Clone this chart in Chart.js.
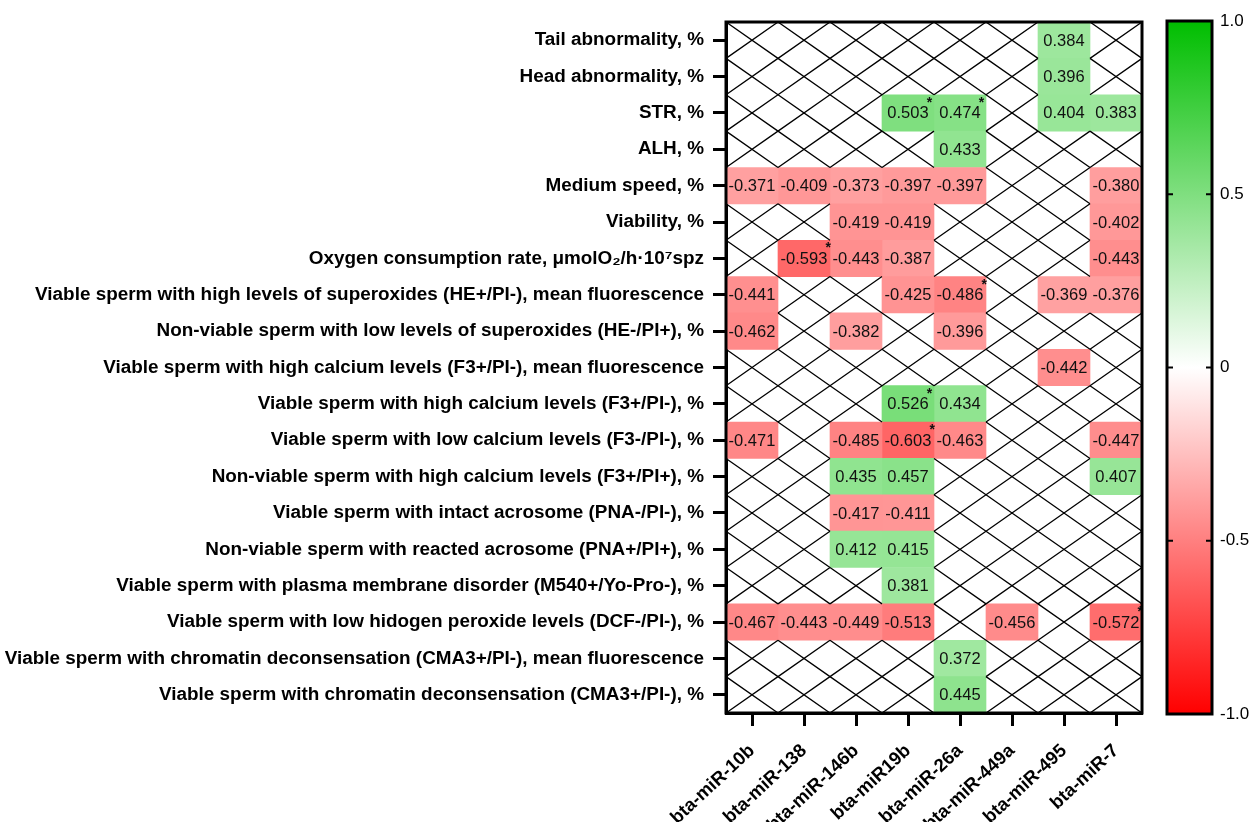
<!DOCTYPE html>
<html>
<head>
<meta charset="utf-8">
<script src="https://cdn.jsdelivr.net/npm/chart.js@4.4.1/dist/chart.umd.min.js"></script>
<style>
  body { margin: 0; background: #fff; }
  #wrap { position: relative; width: 1260px; height: 822px; overflow: hidden; }
  #heatmap { position: absolute; left: 0; top: 0; }
  #colorbar { position: absolute; left: 1140px; top: 0; }
</style>
</head>
<body>
<div id="wrap">
  <canvas id="heatmap" width="1260" height="822"></canvas>
  <canvas id="colorbar" width="120" height="822"></canvas>
</div>
<script>
// Correlations between miRNA expression and sperm parameters (blank = not significant)
const miRNAs = ['bta-miR-10b', 'bta-miR-138', 'bta-miR-146b', 'bta-miR19b', 'bta-miR-26a', 'bta-miR-449a', 'bta-miR-495', 'bta-miR-7'];

const parameters = [
    'Tail abnormality, %',
    'Head abnormality, %',
    'STR, %',
    'ALH, %',
    'Medium speed, %',
    'Viability, %',
    'Oxygen consumption rate, \u03bcmolO\u2082/h\u00b710\u2077spz',
    'Viable sperm with high levels of superoxides (HE+/PI-), mean fluorescence',
    'Non-viable sperm with low levels of superoxides (HE-/PI+), %',
    'Viable sperm with high calcium levels (F3+/PI-), mean fluorescence',
    'Viable sperm with high calcium levels (F3+/PI-), %',
    'Viable sperm with low calcium levels (F3-/PI-), %',
    'Non-viable sperm with high calcium levels (F3+/PI+), %',
    'Viable sperm with intact acrosome (PNA-/PI-), %',
    'Non-viable sperm with reacted acrosome (PNA+/PI+), %',
    'Viable sperm with plasma membrane disorder (M540+/Yo-Pro-), %',
    'Viable sperm with low hidogen peroxide levels (DCF-/PI-), %',
    'Viable sperm with chromatin deconsensation (CMA3+/PI-), mean fluorescence',
    'Viable sperm with chromatin deconsensation (CMA3+/PI-), %'
];

// one row per parameter, one column per miRNA
const corrValues = [
    [null, null, null, null, null, null, 0.384, null],
    [null, null, null, null, null, null, 0.396, null],
    [null, null, null, 0.503, 0.474, null, 0.404, 0.383],
    [null, null, null, null, 0.433, null, null, null],
    [-0.371, -0.409, -0.373, -0.397, -0.397, null, null, -0.380],
    [null, null, -0.419, -0.419, null, null, null, -0.402],
    [null, -0.593, -0.443, -0.387, null, null, null, -0.443],
    [-0.441, null, null, -0.425, -0.486, null, -0.369, -0.376],
    [-0.462, null, -0.382, null, -0.396, null, null, null],
    [null, null, null, null, null, null, -0.442, null],
    [null, null, null, 0.526, 0.434, null, null, null],
    [-0.471, null, -0.485, -0.603, -0.463, null, null, -0.447],
    [null, null, 0.435, 0.457, null, null, null, 0.407],
    [null, null, -0.417, -0.411, null, null, null, null],
    [null, null, 0.412, 0.415, null, null, null, null],
    [null, null, null, 0.381, null, null, null, null],
    [-0.467, -0.443, -0.449, -0.513, null, -0.456, null, -0.572],
    [null, null, null, null, 0.372, null, null, null],
    [null, null, null, null, 0.445, null, null, null]
];

// [row, column] of the starred cells
const significant = [[2, 3], [2, 4], [6, 1], [7, 4], [10, 3], [11, 3], [16, 7]];

const colorbarTicks = [-1, -0.5, 0, 0.5, 1];

const FONT = '"Liberation Sans", Arial, Helvetica, sans-serif';

function cellColor(v) {
    if (v == null) return 'rgba(0,0,0,0)';
    if (v >= 0) {
        const rb = Math.round(255 * (1 - v));
        const g = Math.round(255 - 63 * v);
        return `rgb(${rb},${g},${rb})`;
    }
    const a = -v;
    const gb = Math.round(255 * (1 - a));
    return `rgb(255,${gb},${gb})`;
}

function isStarred(r, c) {
    return significant.some(s => s[0] === r && s[1] === c);
}

// X marks on empty cells, numbers on the filled ones, frame on top
const cellPlugin = {
    id: 'cellPlugin',
    afterDatasetsDraw(chart) {
        const ctx = chart.ctx;
        const xs = chart.scales.x;
        const ys = chart.scales.y;
        const area = chart.chartArea;
        const halfRow = (ys.getPixelForValue(1) - ys.getPixelForValue(0)) / 2;

        ctx.save();
        ctx.strokeStyle = '#000';
        ctx.lineWidth = 1.3;
        corrValues.forEach((row, r) => {
            row.forEach((v, c) => {
                if (v != null) return;
                const x0 = xs.getPixelForValue(c - 0.5);
                const x1 = xs.getPixelForValue(c + 0.5);
                const y0 = ys.getPixelForValue(r) - halfRow;
                const y1 = ys.getPixelForValue(r) + halfRow;
                ctx.beginPath();
                ctx.moveTo(x0, y0); ctx.lineTo(x1, y1);
                ctx.moveTo(x0, y1); ctx.lineTo(x1, y0);
                ctx.stroke();
            });
        });

        ctx.fillStyle = '#111';
        ctx.textBaseline = 'middle';
        corrValues.forEach((row, r) => {
            row.forEach((v, c) => {
                if (v == null) return;
                const x = xs.getPixelForValue(c);
                const y = ys.getPixelForValue(r);
                const label = v.toFixed(3);
                ctx.font = '16.5px ' + FONT;
                ctx.textAlign = 'center';
                ctx.fillText(label, x, y + 1);
                if (isStarred(r, c)) {
                    const w = ctx.measureText(label).width;
                    ctx.font = 'bold 14px ' + FONT;
                    ctx.textAlign = 'left';
                    ctx.fillText('*', x + w / 2 - 2, y - 10);
                }
            });
        });

        ctx.strokeStyle = '#000';
        ctx.lineWidth = 3;
        ctx.strokeRect(area.left, area.top, area.right - area.left, area.bottom - area.top);
        ctx.restore();
    }
};

const heatmapDatasets = miRNAs.map((name, c) => ({
    label: name,
    data: parameters.map((p, r) => corrValues[r][c] == null ? null : [c - 0.5, c + 0.5]),
    backgroundColor: parameters.map((p, r) => cellColor(corrValues[r][c])),
    borderWidth: 0,
    barPercentage: 1,
    categoryPercentage: 1,
    grouped: false
}));

new Chart(document.getElementById('heatmap'), {
    type: 'bar',
    data: { labels: parameters, datasets: heatmapDatasets },
    options: {
        indexAxis: 'y',
        responsive: false,
        animation: false,
        layout: { padding: { left: 0, top: 22, right: 118, bottom: 0 } },
        plugins: { legend: { display: false }, tooltip: { enabled: false } },
        scales: {
            x: {
                type: 'linear',
                position: 'bottom',
                min: -0.5,
                max: 7.5,
                afterBuildTicks: s => { s.ticks = miRNAs.map((m, i) => ({ value: i })); },
                afterFit: s => { s.height = 109; },
                ticks: {
                    autoSkip: false,
                    minRotation: 43,
                    maxRotation: 43,
                    padding: 14,
                    color: '#000',
                    font: { family: FONT, size: 18.5, weight: 'bold' },
                    callback: v => miRNAs[v]
                },
                grid: { drawOnChartArea: false, drawTicks: true, tickLength: 13, tickWidth: 3, tickColor: '#000' },
                border: { display: true, color: '#000', width: 3 }
            },
            y: {
                type: 'category',
                afterFit: s => { s.width = 726; },
                ticks: {
                    autoSkip: false,
                    padding: 9,
                    color: '#000',
                    font: { family: FONT, size: 18.9, weight: 'bold' }
                },
                grid: { offset: false, drawOnChartArea: false, drawTicks: true, tickLength: 13, tickWidth: 3, tickColor: '#000' },
                border: { display: true, color: '#000', width: 3 }
            }
        }
    },
    plugins: [cellPlugin]
});

// colour scale legend
const colorbarPlugin = {
    id: 'colorbarPlugin',
    afterDatasetsDraw(chart) {
        const ctx = chart.ctx;
        const ys = chart.scales.y;
        const area = chart.chartArea;
        ctx.save();
        ctx.strokeStyle = '#000';
        ctx.lineWidth = 2;
        colorbarTicks.filter(t => Math.abs(t) < 1).forEach(t => {
            const y = ys.getPixelForValue(t);
            ctx.beginPath();
            ctx.moveTo(area.left, y); ctx.lineTo(area.left + 6, y);
            ctx.moveTo(area.right - 6, y); ctx.lineTo(area.right, y);
            ctx.stroke();
        });
        ctx.lineWidth = 3;
        ctx.strokeRect(area.left, area.top, area.right - area.left, area.bottom - area.top);
        ctx.restore();
    }
};

new Chart(document.getElementById('colorbar'), {
    type: 'bar',
    data: {
        labels: ['scale'],
        datasets: [{
            data: [[-1, 1]],
            borderWidth: 0,
            barPercentage: 1,
            categoryPercentage: 1,
            backgroundColor: context => {
                const chart = context.chart;
                const area = chart.chartArea;
                if (!area) return '#fff';
                const g = chart.ctx.createLinearGradient(0, area.bottom, 0, area.top);
                g.addColorStop(0, 'rgb(255,0,0)');
                g.addColorStop(0.5, 'rgb(255,255,255)');
                g.addColorStop(1, 'rgb(0,190,0)');
                return g;
            }
        }]
    },
    options: {
        responsive: false,
        animation: false,
        layout: { padding: { left: 27, top: 21, right: 0, bottom: 108 } },
        plugins: { legend: { display: false }, tooltip: { enabled: false } },
        scales: {
            x: { display: false },
            y: {
                position: 'right',
                min: -1,
                max: 1,
                afterBuildTicks: s => { s.ticks = colorbarTicks.map(v => ({ value: v })); },
                afterFit: s => { s.width = 48; },
                ticks: {
                    padding: 8,
                    color: '#000',
                    font: { family: FONT, size: 17 },
                    callback: v => v === 0 ? '0' : v.toFixed(1)
                },
                grid: { display: false, drawTicks: false },
                border: { display: false }
            }
        }
    },
    plugins: [colorbarPlugin]
});
</script>
</body>
</html>
